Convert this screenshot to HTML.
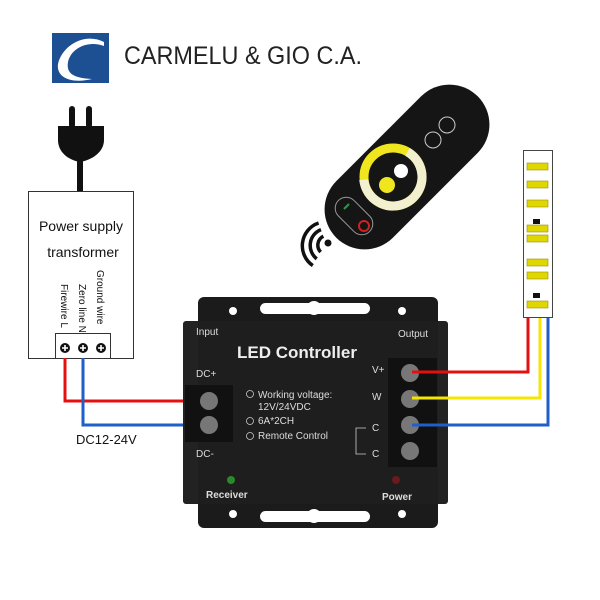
<!DOCTYPE html>
<html><head><meta charset="utf-8"><style>
body{margin:0;background:#fff}
svg{display:block}
text{font-family:"Liberation Sans",sans-serif}
</style></head><body>
<svg width="600" height="600" viewBox="0 0 600 600" xmlns="http://www.w3.org/2000/svg">
<!-- logo -->
<rect x="52" y="33" width="57" height="50" fill="#1d4f93"/>
<path d="M104 42 C84 32 62 46 58 64 C56 78 72 84 92 79 C74 78 66 74 68 62 C71 48 88 40 104 46 Z" fill="#fff"/>
<text x="124" y="64" font-size="25" fill="#222" textLength="238" lengthAdjust="spacingAndGlyphs">CARMELU &amp; GIO C.A.</text>
<!-- plug -->
<rect x="69" y="106" width="6" height="22" rx="3" fill="#111"/>
<rect x="86" y="106" width="6" height="22" rx="3" fill="#111"/>
<path d="M58 126 H104 V140 C104 152 92 160 80 162 C68 160 58 152 58 140 Z" fill="#111"/>
<rect x="77" y="158" width="6" height="34" fill="#111"/>
<!-- power supply -->
<rect x="28.5" y="191.5" width="105" height="167" fill="#fff" stroke="#333"/>
<text x="81" y="231" font-size="14" text-anchor="middle" fill="#111">Power supply</text>
<text x="83" y="257" font-size="14" text-anchor="middle" fill="#111">transformer</text>
<g font-size="10" fill="#111">
<text transform="translate(61,284) rotate(90)">Firewire L</text>
<text transform="translate(79,284) rotate(90)">Zero line N</text>
<text transform="translate(97,270) rotate(90)">Ground wire</text>
</g>
<rect x="55.5" y="333.5" width="55" height="25" fill="#fff" stroke="#333"/>
<g fill="#111"><circle cx="65" cy="348" r="5"/><circle cx="83" cy="348" r="5"/><circle cx="101" cy="348" r="5"/></g>
<g stroke="#fff" stroke-width="1.6"><path d="M62 348h6M65 345v6M80 348h6M83 345v6M98 348h6M101 345v6"/></g>
<!-- wires left -->
<path d="M65 358 V401 H215" fill="none" stroke="#e41010" stroke-width="3"/>
<path d="M83 358 V425 H215" fill="none" stroke="#1f5fc8" stroke-width="3"/>
<text x="76" y="444" font-size="13" fill="#111">DC12-24V</text>
<!-- controller -->
<rect x="198" y="297" width="240" height="231" rx="6" fill="#1b1b1b"/>
<rect x="183" y="321" width="265" height="183" rx="3" fill="#222"/>
<rect x="198" y="321" width="240" height="183" fill="#1e1e1e"/>
<rect x="260" y="303" width="110" height="11" rx="5.5" fill="#fff"/>
<circle cx="314" cy="308" r="7" fill="#fff"/>
<circle cx="233" cy="311" r="4" fill="#fff"/><circle cx="402" cy="311" r="4" fill="#fff"/>
<rect x="260" y="511" width="110" height="11" rx="5.5" fill="#fff"/>
<circle cx="314" cy="516" r="7" fill="#fff"/>
<circle cx="233" cy="514" r="4" fill="#fff"/><circle cx="402" cy="514" r="4" fill="#fff"/>
<text x="196" y="335" font-size="10" fill="#ddd">Input</text>
<text x="398" y="337" font-size="10" fill="#ddd">Output</text>
<text x="237" y="358" font-size="17" font-weight="bold" fill="#eee">LED Controller</text>
<text x="196" y="377" font-size="10" fill="#ddd">DC+</text>
<text x="196" y="457" font-size="10" fill="#ddd">DC-</text>
<rect x="185" y="385" width="48" height="57" fill="#111"/>
<circle cx="209" cy="401" r="9" fill="#777"/><circle cx="209" cy="425" r="9" fill="#777"/>
<g font-size="10" fill="#ddd">
<text x="258" y="398">Working voltage:</text>
<text x="258" y="410">12V/24VDC</text>
<text x="258" y="424">6A*2CH</text>
<text x="258" y="439">Remote Control</text>
</g>
<g fill="none" stroke="#ccc" stroke-width="0.8"><circle cx="250" cy="394" r="3.5"/><circle cx="250" cy="421" r="3.5"/><circle cx="250" cy="436" r="3.5"/>
<path d="M366 428 H356 V454 H366"/></g>
<g font-size="10" fill="#ddd">
<text x="372" y="373">V+</text><text x="372" y="400">W</text><text x="372" y="431">C</text><text x="372" y="457">C</text>
</g>
<rect x="388" y="358" width="49" height="109" fill="#111"/>
<g fill="#777"><circle cx="410" cy="373" r="9"/><circle cx="410" cy="399" r="9"/><circle cx="410" cy="425" r="9"/><circle cx="410" cy="451" r="9"/></g>
<circle cx="231" cy="480" r="4" fill="#2a8a2a"/>
<circle cx="396" cy="480" r="4" fill="#6a1a1a"/>
<text x="206" y="498" font-size="10" font-weight="bold" fill="#ddd">Receiver</text>
<text x="382" y="500" font-size="10" font-weight="bold" fill="#ddd">Power</text>
<!-- right wires -->
<path d="M412 372 H528 V316" fill="none" stroke="#e41010" stroke-width="3"/>
<path d="M412 398 H540 V316" fill="none" stroke="#f5e600" stroke-width="3"/>
<path d="M412 425 H548 V316" fill="none" stroke="#1f5fc8" stroke-width="3"/>
<!-- LED strip -->
<rect x="523.5" y="150.5" width="29" height="167" fill="#fff" stroke="#444"/>
<g fill="#e0d600" stroke="#998f00" stroke-width="0.6">
<rect x="527" y="163" width="21" height="7"/><rect x="527" y="181" width="21" height="7"/><rect x="527" y="200" width="21" height="7"/>
<rect x="527" y="225" width="21" height="7"/><rect x="527" y="235" width="21" height="7"/>
<rect x="527" y="259" width="21" height="7"/><rect x="527" y="272" width="21" height="7"/><rect x="527" y="301" width="21" height="7"/>
</g>
<rect x="533" y="219" width="7" height="5" fill="#111"/><rect x="533" y="293" width="7" height="5" fill="#111"/>
<!-- remote -->
<g transform="translate(407,167) rotate(-45)">
<rect x="-100" y="-40" width="200" height="80" rx="40" fill="#151515"/>
</g>
<circle cx="393" cy="177" r="29" fill="none" stroke="#f0e620" stroke-width="9"/>
<path d="M393 148 A29 29 0 0 1 393 206 A29 29 0 0 1 369 194" fill="none" stroke="#f3f0d0" stroke-width="9" transform="rotate(30 393 177)"/>
<circle cx="401" cy="171" r="7" fill="#fff"/><circle cx="387" cy="185" r="8" fill="#f0e620"/>
<circle cx="433" cy="140" r="8" fill="none" stroke="#ccc"/><circle cx="447" cy="125" r="8" fill="none" stroke="#ccc"/>
<rect x="343" y="194" width="22" height="44" rx="11" fill="none" stroke="#999" transform="rotate(-45 354 216)"/>
<circle cx="364" cy="226" r="5" fill="none" stroke="#d02020" stroke-width="2"/>
<path d="M344 209 l5 -5" stroke="#20a040" stroke-width="2"/>
<!-- wireless icon -->
<circle cx="328" cy="243" r="3.5" fill="#111"/>
<path d="M326 235 A10 10 0 0 0 318 249 M326 228 A17 17 0 0 0 312 254 M326 221 A24 24 0 0 0 306 259" fill="none" stroke="#111" stroke-width="3.5" transform="rotate(-20 328 243)"/>
</svg>
</body></html>
